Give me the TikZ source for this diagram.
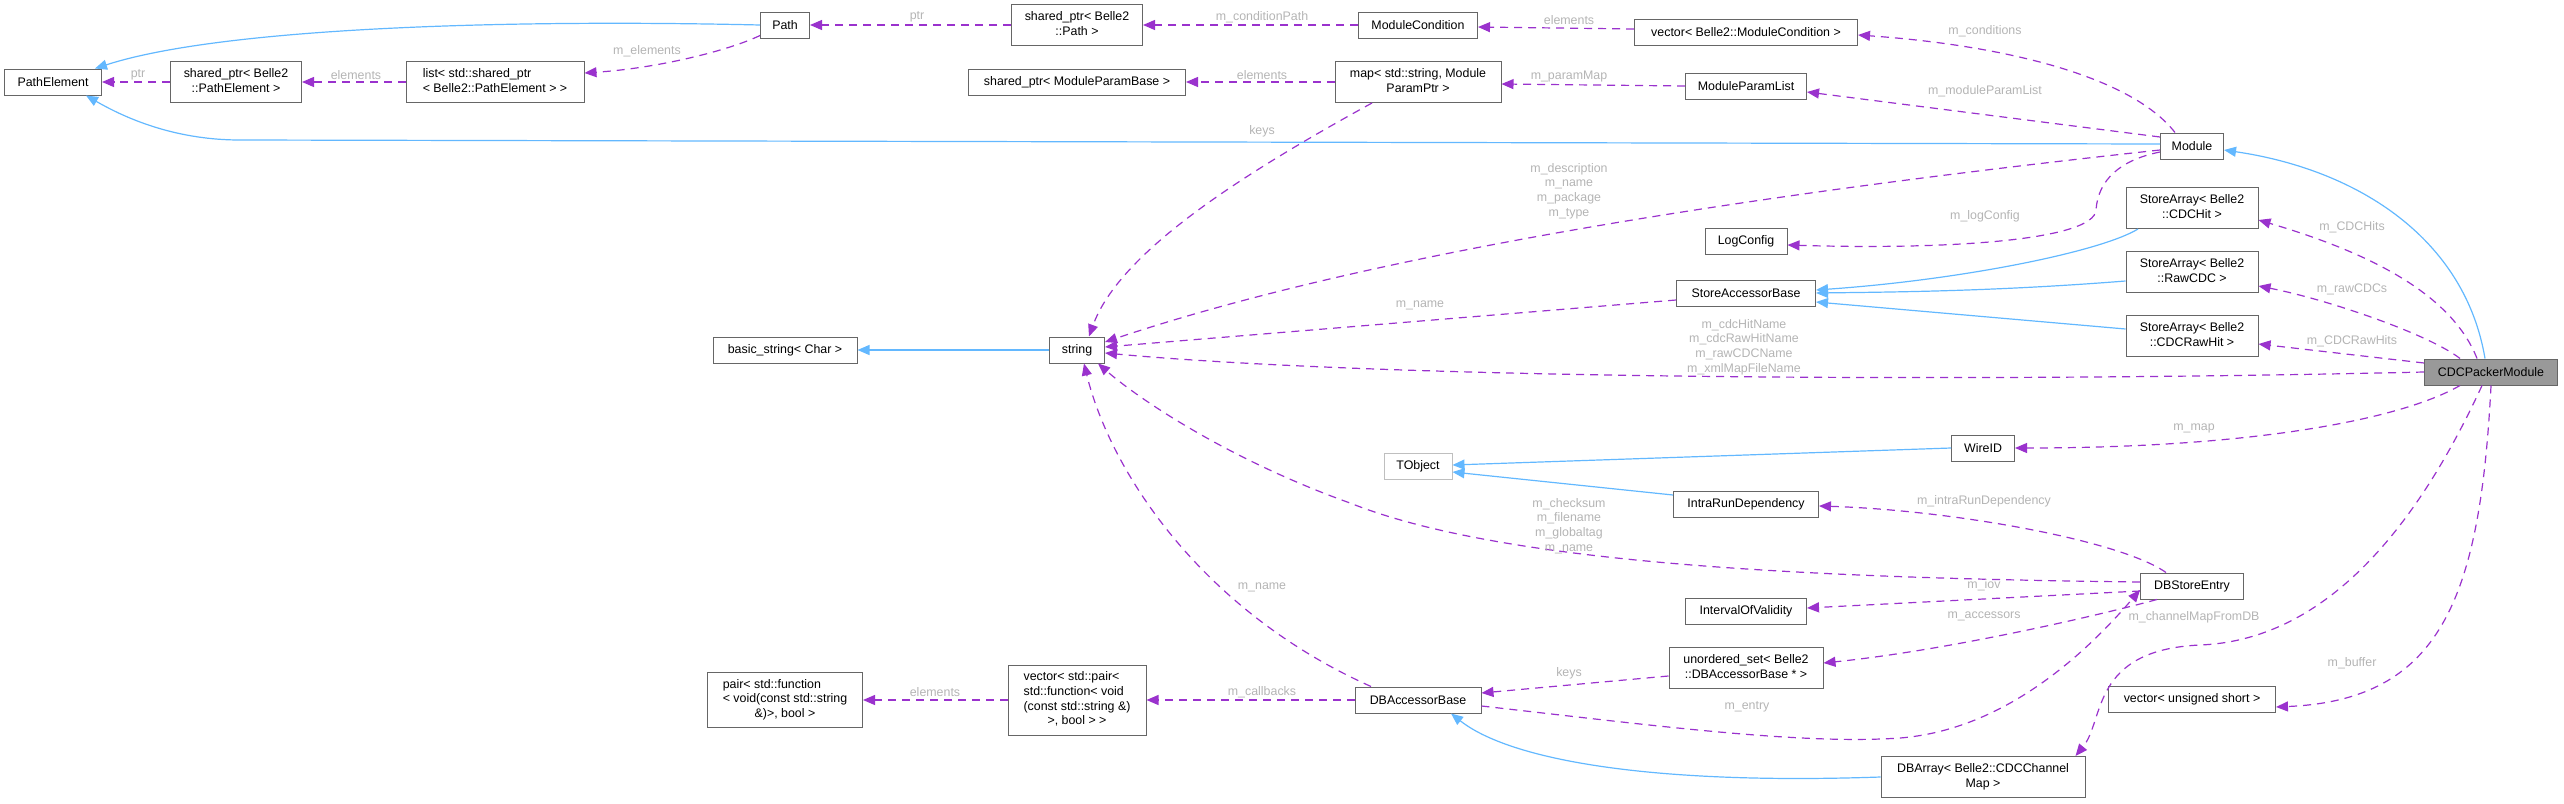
\documentclass[tikz,border=0pt]{standalone}
\usepackage{fontspec}
\setmainfont{Liberation Sans}
\usetikzlibrary{arrows.meta}
\definecolor{edgeblue}{HTML}{63B8FF}
\definecolor{edgepurple}{HTML}{9A32CD}
\definecolor{boxgray}{HTML}{666666}
\definecolor{nodocgray}{HTML}{BFBFBF}
\definecolor{focusgray}{HTML}{999999}
\definecolor{labelgray}{HTML}{B4B4B4}
% multi-line class names: left lines, last one centred
\newcommand{\dxl}[1]{\begin{tabular}{@{}l@{}}#1\end{tabular}}
\newcommand{\dxc}[1]{\multicolumn{1}{@{}c@{}}{#1}}
\tikzset{
  font=\fontsize{12.4}{14.7}\selectfont,
  box/.style={
    draw=boxgray,
    line width=1pt,
    fill=white,
    align=center,
    inner sep=0pt
  },
  nodoc/.style={box, draw=nodocgray},
  focus/.style={box, fill=focusgray},
  sz/.style 2 args={minimum width=#1pt, minimum height=#2pt},
  lbl/.style={text=labelgray, align=center, inner sep=0pt},
  inherit/.style={draw=edgeblue, line width=1.2pt, -{Triangle[length=12pt,width=10pt]}},
  member/.style={draw=edgepurple, line width=1.2pt, dash pattern=on 8pt off 6pt,
    -{Triangle[length=12pt,width=10pt]}}
}
\begin{document}
\begin{tikzpicture}[x=1pt, y=-1pt]
\useasboundingbox (0,0) rectangle (2564,803);

% --- Classes, column by column
\node[box, sz={97}{26}] (PathElement) at (53,82) {PathElement};
\node[box, sz={131}{41}] (sharedPE) at (236,82) {\dxl{shared\_ptr< Belle2\\\dxc{::PathElement >}}};
\node[box, sz={178}{41}] (elemList) at (495,82) {\dxl{list< std::shared\_ptr\\\dxc{< Belle2::PathElement > >}}};

\node[box, sz={49}{26}] (Path) at (785,25) {Path};
\node[box, sz={144}{26}] (basicString) at (785,350) {basic\_string< Char >};
\node[box, sz={155}{55}] (funcPair) at (785,700) {\dxl{pair< std::function\\< void(const std::string\\\dxc{\&)>, bool >}}};

\node[box, sz={131}{41}] (sharedPath) at (1077,25) {\dxl{shared\_ptr< Belle2\\\dxc{::Path >}}};
\node[box, sz={217}{26}] (sharedParam) at (1077,82) {shared\_ptr< ModuleParamBase >};
\node[box, sz={55}{26}] (string) at (1077,350) {string};
\node[box, sz={138}{70}] (callbackVec) at (1077,700) {\dxl{vector< std::pair<\\std::function< void\\(const std::string \&)\\\dxc{>, bool > >}}};

\node[box, sz={119}{26}] (modCond) at (1418,25) {ModuleCondition};
\node[box, sz={166}{41}] (paramMap) at (1418,82) {\dxl{map< std::string, Module\\\dxc{ParamPtr >}}};
\node[nodoc, sz={68}{26}] (TObject) at (1418,466) {TObject};
\node[box, sz={126}{26}] (dbAccessor) at (1418,700) {DBAccessorBase};

\node[box, sz={223}{26}] (condVec) at (1746,32) {vector< Belle2::ModuleCondition >};
\node[box, sz={121}{26}] (paramList) at (1746,86) {ModuleParamList};
\node[box, sz={82}{26}] (LogConfig) at (1746,241) {LogConfig};
\node[box, sz={139}{26}] (storeAccessor) at (1746,293) {StoreAccessorBase};
\node[box, sz={145}{26}] (intraRun) at (1746,504) {IntraRunDependency};
\node[box, sz={121}{26}] (iov) at (1746,611) {IntervalOfValidity};
\node[box, sz={154}{41}] (accessorSet) at (1746,668) {\dxl{unordered\_set< Belle2\\\dxc{::DBAccessorBase * >}}};

\node[box, sz={63}{26}] (WireID) at (1983,448) {WireID};
\node[box, sz={204}{41}] (channelArray) at (1983,777) {\dxl{DBArray< Belle2::CDCChannel\\\dxc{Map >}}};

\node[box, sz={63}{26}] (Module) at (2192,146) {Module};
\node[box, sz={132}{41}] (hitArray) at (2192,208) {\dxl{StoreArray< Belle2\\\dxc{::CDCHit >}}};
\node[box, sz={132}{41}] (rawArray) at (2192,272) {\dxl{StoreArray< Belle2\\\dxc{::RawCDC >}}};
\node[box, sz={132}{41}] (rawHitArray) at (2192,336) {\dxl{StoreArray< Belle2\\\dxc{::CDCRawHit >}}};
\node[box, sz={103}{26}] (storeEntry) at (2192,586) {DBStoreEntry};
\node[box, sz={167}{26}] (bufferVec) at (2192,699) {vector< unsigned short >};

\node[focus, sz={133}{26}] (packer) at (2491,372) {CDCPackerModule};

% --- Inheritance (blue)
\draw[inherit] ([yshift=2pt]Module.west) -- (240,140) .. controls (170,140) and (120,115) .. ([xshift=33pt]PathElement.south);
\draw[inherit] (Path.west) .. controls (500,19) and (220,28) .. ([xshift=42pt]PathElement.north);
\draw[inherit] (string.west) -- (basicString.east);
\draw[inherit] ([xshift=-54pt]hitArray.south) .. controls (2100,252) and (1960,280) .. ([yshift=3pt]storeAccessor.east);
\draw[inherit] ([yshift=-9pt]rawArray.west) .. controls (2000,291) and (1900,292) .. (storeAccessor.east);
\draw[inherit] ([yshift=7pt]rawHitArray.west) -- ([yshift=-9pt]storeAccessor.east);
\draw[inherit] ([xshift=-6pt]packer.north) .. controls (2465,240) and (2360,170) .. ([yshift=-4pt]Module.east);
\draw[inherit] (WireID.west) -- ([yshift=1pt]TObject.east);
\draw[inherit] ([yshift=9pt]intraRun.west) -- ([yshift=-6pt]TObject.east);
\draw[inherit] (channelArray.west) .. controls (1650,785) and (1510,760) .. ([xshift=33pt]dbAccessor.south);

% --- Members (purple, dashed)
\draw[member] (sharedPE.west) -- (PathElement.east);
\draw[member] (elemList.west) -- (sharedPE.east);
\draw[member] ([yshift=3pt]Path.south west) .. controls (730,50) and (660,68) .. ([yshift=9pt]elemList.east);
\draw[member] (sharedPath.west) -- (Path.east);
\draw[member] (modCond.west) -- (sharedPath.east);
\draw[member] ([yshift=3pt]condVec.west) -- ([yshift=-2pt]modCond.east);
\draw[member] ([xshift=-17pt]Module.north) .. controls (2130,75) and (2000,45) .. ([yshift=-3pt]condVec.east);
\draw[member] (paramMap.west) -- (sharedParam.east);
\draw[member] (paramList.west) -- ([yshift=-2pt]paramMap.east);
\draw[member] ([yshift=9pt]Module.west) -- ([yshift=-6pt]paramList.east);
\draw[member] ([xshift=-46pt]paramMap.south) .. controls (1250,170) and (1120,250) .. ([xshift=12pt]string.north);
\draw[member] ([yshift=-4pt]Module.west) .. controls (1700,200) and (1350,260) .. ([yshift=8pt]string.east);
\draw[member] ([yshift=-6pt]Module.west) .. controls (2120,160) and (2098,180) .. (2096,210)
  .. controls (2094,240) and (1950,250) .. ([yshift=-4pt]LogConfig.east);
\draw[member] ([yshift=-7pt]storeAccessor.west) -- ([yshift=3pt]string.east);
\draw[member] (packer.west) .. controls (2000,382) and (1400,380) .. ([yshift=-3pt]string.east);
\draw[member] ([xshift=-14pt]packer.north) .. controls (2450,290) and (2360,250) .. ([yshift=-12pt]hitArray.east);
\draw[member] ([xshift=-31pt]packer.north) .. controls (2430,335) and (2330,300) .. ([yshift=-14pt]rawArray.east);
\draw[member] ([yshift=9pt]packer.west) -- ([yshift=-8pt]rawHitArray.east);
\draw[member] ([xshift=-31pt]packer.south) .. controls (2400,420) and (2250,448) .. (WireID.east);
\draw[member] (packer.south) .. controls (2480,600) and (2440,700) .. ([yshift=-8pt]bufferVec.east);
\draw[member] ([xshift=-9pt]packer.south) .. controls (2420,520) and (2330,640) .. (2200,645)
  .. controls (2090,650) and (2105,720) .. ([xshift=-10pt]channelArray.north east);
\draw[member] ([xshift=-26pt]storeEntry.north) .. controls (2120,540) and (1950,510) .. ([yshift=-2pt]intraRun.east);
\draw[member] ([yshift=4pt]storeEntry.west) .. controls (1800,578) and (1500,563) .. (1350,503)
  .. controls (1230,460) and (1140,400) .. ([xshift=21pt]string.south);
\draw[member] ([yshift=-5pt]storeEntry.west) -- ([yshift=3pt]iov.east);
\draw[member] ([xshift=-35pt]storeEntry.south) .. controls (2100,615) and (1950,650) .. ([yshift=5pt]accessorSet.east);
\draw[member] ([yshift=-8pt]accessorSet.west) -- ([yshift=7pt]dbAccessor.east);
\draw[member] ([yshift=-6pt]dbAccessor.east) .. controls (1650,725) and (1800,745) .. (1900,738)
  .. controls (2000,730) and (2080,660) .. ([yshift=-4pt]storeEntry.west);
\draw[member] ([xshift=-47pt]dbAccessor.north) .. controls (1200,610) and (1110,470) .. ([xshift=7pt]string.south);
\draw[member] (callbackVec.west) -- (funcPair.east);
\draw[member] (dbAccessor.west) -- (callbackVec.east);

% --- Edge labels
\node[lbl] (lPtrA) at (138,75) {ptr};
\node[lbl] (lElemA) at (356,75) {elements};
\node[lbl] (lElemB) at (647,51) {m\_elements};
\node[lbl] (lPtrB) at (917,17) {ptr};
\node[lbl] (lCondPath) at (1262,17) {m\_conditionPath};
\node[lbl] (lElemC) at (1569,20) {elements};
\node[lbl] (lElemD) at (1262,75) {elements};
\node[lbl] (lParamMap) at (1569,77) {m\_paramMap};
\node[lbl] (lKeysA) at (1262,131) {keys};
\node[lbl] (lConds) at (1985,31) {m\_conditions};
\node[lbl] (lParamList) at (1985,91) {m\_moduleParamList};
\node[lbl] (lDescr) at (1569,191) {m\_description\\m\_name\\m\_package\\m\_type};
\node[lbl] (lLog) at (1985,216) {m\_logConfig};
\node[lbl] (lNameA) at (1420,305) {m\_name};
\node[lbl] (lNames) at (1744,347) {m\_cdcHitName\\m\_cdcRawHitName\\m\_rawCDCName\\m\_xmlMapFileName};
\node[lbl] (lHits) at (2352,227) {m\_CDCHits};
\node[lbl] (lRaw) at (2352,289) {m\_rawCDCs};
\node[lbl] (lRawHits) at (2352,341) {m\_CDCRawHits};
\node[lbl] (lMap) at (2194,428) {m\_map};
\node[lbl] (lIntra) at (1984,501) {m\_intraRunDependency};
\node[lbl] (lChecksum) at (1569,526) {m\_checksum\\m\_filename\\m\_globaltag\\m\_name};
\node[lbl] (lIov) at (1984,585) {m\_iov};
\node[lbl] (lAccessors) at (1984,616) {m\_accessors};
\node[lbl] (lChannel) at (2194,617) {m\_channelMapFromDB};
\node[lbl] (lNameB) at (1262,587) {m\_name};
\node[lbl] (lKeysB) at (1569,673) {keys};
\node[lbl] (lEntry) at (1747,707) {m\_entry};
\node[lbl] (lBuffer) at (2352,663) {m\_buffer};
\node[lbl] (lCallbacks) at (1262,692) {m\_callbacks};
\node[lbl] (lElemE) at (935,692) {elements};

\end{tikzpicture}
\end{document}
